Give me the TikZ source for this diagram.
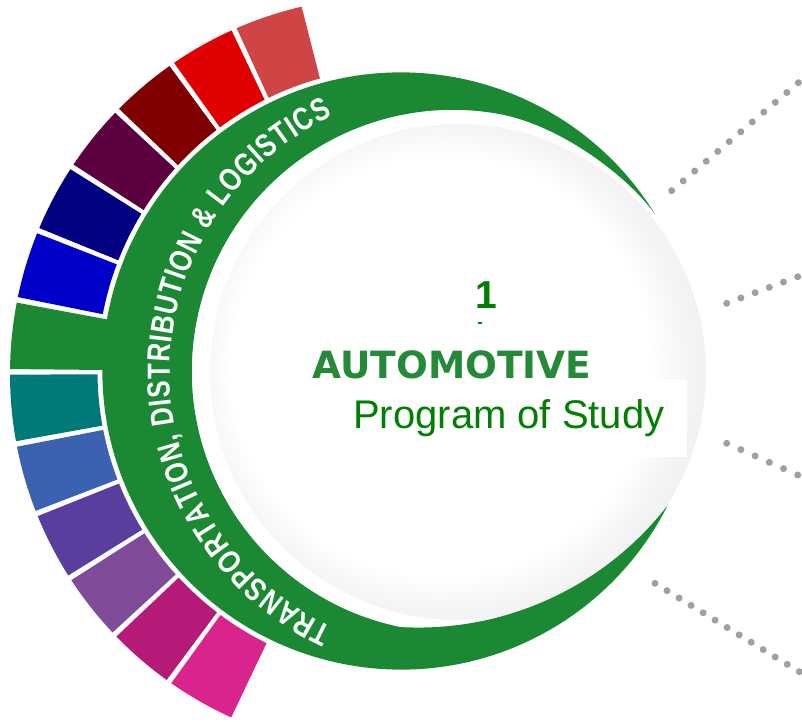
\documentclass[tikz,border=0pt]{standalone}
\usepackage{fontspec}
\setmainfont{Liberation Sans}
\newfontfamily\autofont{DejaVu Sans}
\newfontfamily\bandfont{Liberation Sans Bold}[FakeStretch=0.8]
\usetikzlibrary{calc,decorations.text}
\definecolor{bandgreen}{RGB}{27,137,52}
\definecolor{numgreen}{RGB}{0,128,0}
\definecolor{autogreen}{RGB}{36,138,56}
\definecolor{dotgray}{RGB}{160,160,160}
\definecolor{seg0}{RGB}{207,69,69}
\definecolor{seg1}{RGB}{224,0,0}
\definecolor{seg2}{RGB}{128,0,0}
\definecolor{seg3}{RGB}{92,0,64}
\definecolor{seg4}{RGB}{0,0,128}
\definecolor{seg5}{RGB}{0,0,200}
\definecolor{seg7}{RGB}{0,122,120}
\definecolor{seg8}{RGB}{58,98,176}
\definecolor{seg9}{RGB}{90,62,158}
\definecolor{seg10}{RGB}{128,76,154}
\definecolor{seg11}{RGB}{182,26,120}
\definecolor{seg12}{RGB}{216,36,140}
\pgfdeclareradialshading{discshade}{\pgfpoint{-3bp}{1bp}}{color(0bp)=(white); color(21bp)=(white); color(24.5bp)=(black!4); color(27bp)=(black!5.5); color(29bp)=(black!5); color(50bp)=(black!5)}
\tikzset{
  numtext/.style={font=\fontsize{39}{39}\selectfont\bfseries, text=numgreen, inner sep=0pt},
  autotext/.style={font=\autofont\fontsize{37.5}{37.5}\selectfont\bfseries, text=autogreen, inner sep=0pt},
  progtext/.style={font=\fontsize{40}{40}\selectfont, text=numgreen, inner sep=0pt},
  dotline/.style={line width=7pt, line cap=round, dash pattern=on 0pt off #1, draw=dotgray}
}
\begin{document}
\begin{tikzpicture}[x=1pt,y=1pt]
\useasboundingbox (0,0) rectangle (802,721);
% centres
\coordinate (O) at (387,347);
\coordinate (Iseg) at (401,350);
\coordinate (W) at (395,348);
\coordinate (G) at (401,350);
\coordinate (S) at (458,349);
\coordinate (Ct) at (452,349);
% coloured segments
\foreach \k in {0,1,2,3,4,5,7,8,9,10,11,12}{
  \pgfmathsetmacro\sa{104.3+10.79*\k+0.42*(\k>0)}
  \pgfmathsetmacro\ea{104.3+10.79*(\k+1)-0.42*(\k<12)}
  \begin{scope}
    \clip (W) -- ($(W)+(\sa:460)$) -- ($(W)+(\ea:460)$) -- cycle;
    \fill[seg\k, even odd rule] (O) circle[radius=377] (Iseg) circle[radius=303.5];
  \end{scope}
}
% green protrusion
\begin{scope}
  \clip (W) -- ($(W)+(169.46:460)$) -- ($(W)+(179.41:460)$) -- cycle;
  \fill[bandgreen, even odd rule] (O) circle[radius=377] (G) circle[radius=285];
\end{scope}
% shaded disc
\shade[shading=discshade] (S) circle[radius=248];
\fill[white] (340,264) rectangle (687,341);
% green crescent
\fill[bandgreen] ($(G)+(31.54:298.6)$) arc[start angle=31.54, end angle=333.25, radius=298.6]
  arc[start angle=-37.8, end angle=-93.3, radius=315.6]
  arc[start angle=-101.7, end angle=-280, radius=261.3]
  .. controls (560,596) and (628,545) .. ($(G)+(31.54:298.6)$) -- cycle;
% curved label
\path[decorate, decoration={text along path, text align={fit to path}, text color=white,
  text={|\bandfont\fontsize{32}{32}\selectfont|TRANSPORTATION, DISTRIBUTION {\&} LOGISTICS}}]
  ($(Ct)+(245:282)$) arc[start angle=245, end angle=115, radius=282];
% centre texts
\node[numtext, anchor=base] (num) at (486,413) {1};
\fill[numgreen] (478,397.4) rectangle (482,398.6);
\node[autotext, anchor=base] (auto) at (452,343) {AUTOMOTIVE};
\node[progtext, anchor=base west] (prog) at (353,293) {Program of Study};
% dotted connectors
\coordinate (p1a) at (671.7,530.3); \coordinate (p1b) at (802.9,642.2);
\coordinate (p2a) at (726.7,417.7); \coordinate (p2b) at (803.4,446.4);
\coordinate (p3a) at (726.7,277.7); \coordinate (p3b) at (803.4,243.5);
\coordinate (p4a) at (655,137.7);   \coordinate (p4b) at (804,46.4);
\draw[dotline=15.13pt] (p1a) -- (p1b);
\draw[dotline=15.16pt] (p2a) -- (p2b);
\draw[dotline=15.55pt] (p3a) -- (p3b);
\draw[dotline=14.1pt] (p4a) -- (p4b);
\end{tikzpicture}
\end{document}
